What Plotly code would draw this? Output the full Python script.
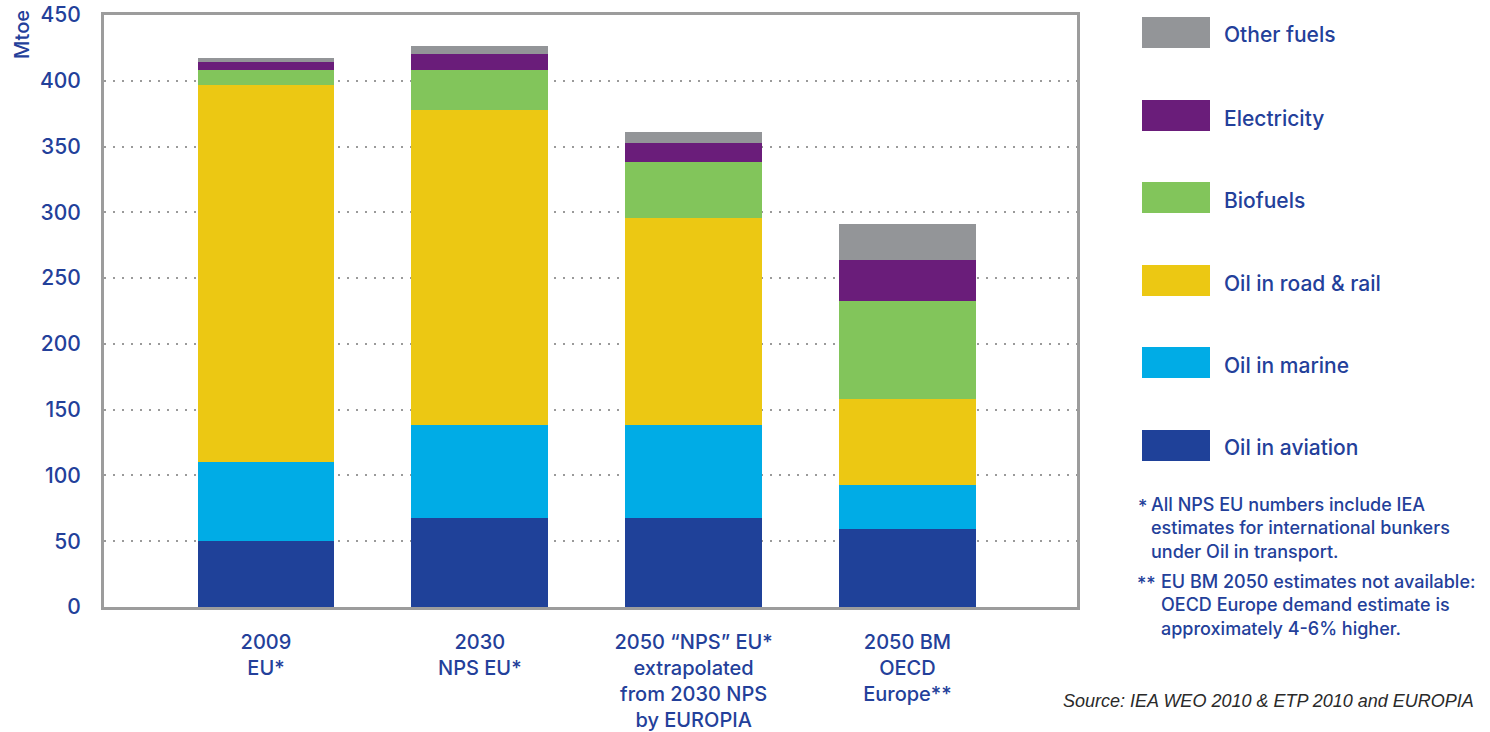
import plotly.graph_objects as go

# ---------------- data ----------------
categories = ["2009<br>EU*", "2030<br>NPS EU*",
              "2050 “NPS” EU*<br>extrapolated<br>from 2030 NPS<br>by EUROPIA",
              "2050 BM<br>OECD<br>Europe**"]
oil_aviation = [50, 68, 68, 59]
oil_marine = [60, 70.5, 70.5, 34]
oil_road_rail = [287, 239, 157, 65]
biofuels = [11.5, 31, 42.5, 74.5]
electricity = [6, 11.5, 14.5, 31]
other_fuels = [3, 6.5, 8.5, 28]

series_names = ["Oil in aviation", "Oil in marine", "Oil in road & rail",
                "Biofuels", "Electricity", "Other fuels"]
series_values = [oil_aviation, oil_marine, oil_road_rail, biofuels, electricity, other_fuels]
series_colors = ["#1f4199", "#00ace6", "#ecc813", "#82c55b", "#6a1d7a", "#939598"]

y_ticks = [0, 50, 100, 150, 200, 250, 300, 350, 400, 450]
y_title = "Mtoe"
footnote1 = "All NPS EU numbers include IEA<br>estimates for international bunkers<br>under Oil in transport."
footnote2 = "EU BM 2050 estimates not available:<br>OECD Europe demand estimate is<br>approximately 4-6% higher."
source_text = "Source: IEA WEO 2010 & ETP 2010 and EUROPIA"

# ---------------- layout helpers ----------------
W, H = 1490, 732
L, R, T, B = 104, 1077, 15, 607
BLUE = "#23409a"
FONT = "Inter"
WEIGHT = 500


def px_x(x):
    return (x - L) / (R - L)


def px_y(y):
    return (B - y) / (B - T)


def tfont(size):
    return dict(family=FONT, size=size, color=BLUE, weight=WEIGHT)


fig = go.Figure()
for name, vals, col in zip(series_names, series_values, series_colors):
    fig.add_trace(go.Bar(x=categories, y=vals, name=name, marker_color=col,
                         marker_line_width=0, width=0.64, showlegend=False))

shapes = []
annotations = []

# custom legend (top: Other fuels ... bottom: Oil in aviation)
legend_tops = [17, 100, 182, 265, 347, 430]
for i, (name, col) in enumerate(zip(reversed(series_names), reversed(series_colors))):
    top = legend_tops[i]
    shapes.append(dict(type="rect", xref="paper", yref="paper",
                       x0=px_x(1142), x1=px_x(1210), y0=px_y(top + 31), y1=px_y(top),
                       fillcolor=col, line=dict(width=0)))
    annotations.append(dict(text=name, xref="paper", yref="paper",
                            x=px_x(1222), y=px_y(top + 18), xanchor="left", yanchor="middle",
                            showarrow=False, font=tfont(21)))

# y-axis title
annotations.append(dict(text=y_title, xref="paper", yref="paper", x=px_x(22), y=px_y(35),
                        xanchor="center", yanchor="middle", textangle=-90, showarrow=False,
                        font=tfont(20)))

# footnotes
annotations.append(dict(text="*", xref="paper", yref="paper", x=px_x(1136), y=px_y(494),
                        xanchor="left", yanchor="top", showarrow=False, font=tfont(18)))
annotations.append(dict(text=footnote1, xref="paper", yref="paper", x=px_x(1149), y=px_y(492),
                        xanchor="left", yanchor="top", align="left", showarrow=False,
                        font=tfont(18)))
annotations.append(dict(text="**", xref="paper", yref="paper", x=px_x(1135), y=px_y(571),
                        xanchor="left", yanchor="top", showarrow=False, font=tfont(18)))
annotations.append(dict(text=footnote2, xref="paper", yref="paper", x=px_x(1159), y=px_y(569),
                        xanchor="left", yanchor="top", align="left", showarrow=False,
                        font=tfont(18)))

# source
annotations.append(dict(text="<i>" + source_text + "</i>", xref="paper", yref="paper",
                        x=px_x(1476), y=px_y(701), xanchor="right", yanchor="middle",
                        showarrow=False,
                        font=dict(family="Liberation Sans", size=18, color="#2a2a2a")))

fig.update_layout(
    width=W, height=H,
    margin=dict(l=L, r=W - R, t=T, b=H - B, pad=0, autoexpand=False),
    barmode="stack",
    plot_bgcolor="white", paper_bgcolor="white",
    shapes=shapes, annotations=annotations,
    font=dict(family=FONT, color=BLUE),
    xaxis=dict(range=[-0.7576, 3.793], showline=True, mirror=True, linecolor="#9c9c9c",
               linewidth=3, showgrid=False, ticks="", ticklabelstandoff=15, automargin=False,
               tickfont=tfont(20), fixedrange=True),
    yaxis=dict(range=[0, 450], tickvals=y_ticks, showline=True, mirror=True,
               linecolor="#9c9c9c", linewidth=3, showgrid=True, gridcolor="#9a9a9a",
               gridwidth=2, griddash="2px,7px", zeroline=False, ticks="",
               ticklabelstandoff=16, automargin=False,
               tickfont=tfont(21), fixedrange=True),
)

fig.write_html("out.html")
